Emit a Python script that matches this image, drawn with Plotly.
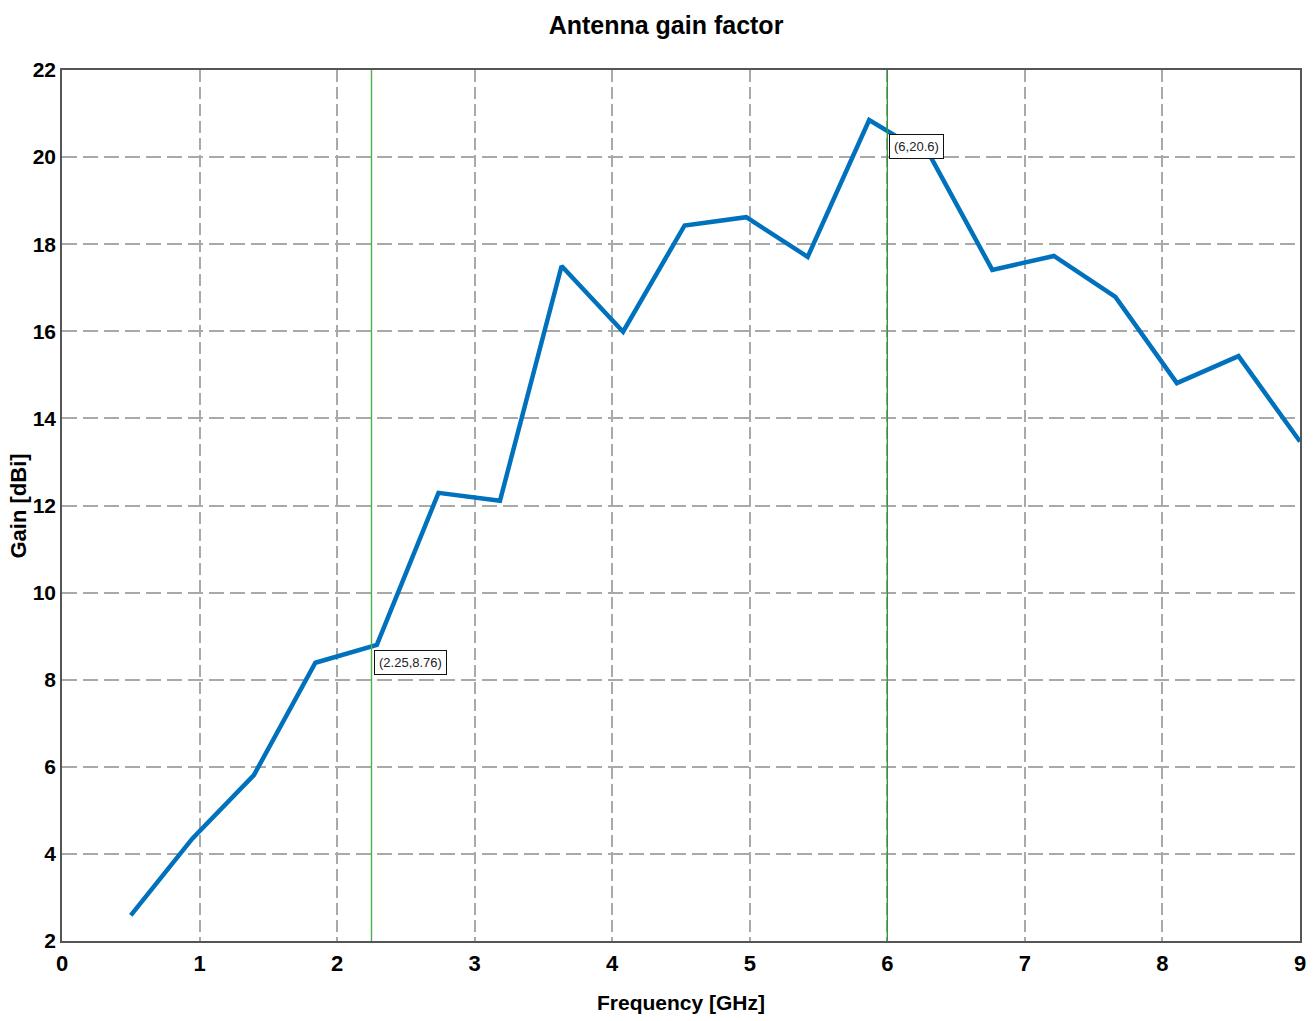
import plotly.graph_objects as go

# Data
freq_ghz = [0.5, 0.947, 1.395, 1.842, 2.289, 2.737, 3.184, 3.632, 4.079, 4.526,
            4.974, 5.421, 5.868, 6.316, 6.763, 7.211, 7.658, 8.105, 8.553, 9.0]
gain_dbi = [2.59, 4.35, 5.81, 8.39, 8.80, 12.29, 12.11, 17.50, 15.99, 18.43,
            18.62, 17.71, 20.85, 20.00, 17.41, 17.73, 16.79, 14.81, 15.43, 13.47]

cursor_x = [2.25, 6]
cursor_y = [8.76, 20.6]
cursor_labels = ["(2.25,8.76)", "(6,20.6)"]

x_ticks = [0, 1, 2, 3, 4, 5, 6, 7, 8, 9]
y_ticks = [2, 4, 6, 8, 10, 12, 14, 16, 18, 20, 22]

FONT = "Liberation Sans, Arial, sans-serif"

fig = go.Figure()

fig.add_trace(go.Scatter(
    x=freq_ghz, y=gain_dbi, mode="lines",
    line=dict(color="#0072BD", width=4.5),
    showlegend=False, cliponaxis=True,
))

cursor_colors = ["#4cb04c", "#35953a"]
for cx, cc in zip(cursor_x, cursor_colors):
    fig.add_shape(type="line", x0=cx, x1=cx, y0=0, y1=1, xref="x", yref="paper",
                  line=dict(color=cc, width=1.4), layer="above")

for cx, cy, lab in zip(cursor_x, cursor_y, cursor_labels):
    fig.add_annotation(x=cx, y=cy, xref="x", yref="y", text=lab, showarrow=False,
                       xanchor="left", yanchor="top", xshift=2, yshift=-3,
                       font=dict(family=FONT, size=13, color="#222222"),
                       bgcolor="white", bordercolor="#111111", borderwidth=1, borderpad=4)

# y-axis title placed as a rotated annotation left of the tick labels
fig.add_annotation(text="<b>Gain [dBi]</b>", xref="paper", yref="paper",
                   x=(18 - 62) / 1238, y=0.5, xanchor="center", yanchor="middle",
                   textangle=-90, showarrow=False,
                   font=dict(family=FONT, size=22, color="black"))

fig.update_layout(
    width=1316, height=1021,
    margin=dict(l=62, r=16, t=70, b=80),
    paper_bgcolor="white", plot_bgcolor="white",
    title=dict(text="<b>Antenna gain factor</b>", x=666 / 1316, xanchor="center",
               y=1 - 25 / 1021, yanchor="middle",
               font=dict(family=FONT, size=25, color="black")),
    xaxis=dict(
        range=[0, 9], tickmode="array", tickvals=x_ticks,
        ticktext=[f"<b>{t}</b>" for t in x_ticks],
        tickfont=dict(family=FONT, size=22, color="black"),
        showline=True, mirror=True, linecolor="#555555", linewidth=1.5,
        showgrid=True, gridcolor="#a9a9a9", gridwidth=1.5, griddash="12px,5px",
        zeroline=False, ticks="", ticklabelstandoff=2, automargin=False,
        title=dict(text="<b>Frequency [GHz]</b>", standoff=20,
                   font=dict(family=FONT, size=21, color="black")),
    ),
    yaxis=dict(
        range=[2, 22], tickmode="array", tickvals=y_ticks,
        ticktext=[f"<b>{t}</b>" for t in y_ticks],
        tickfont=dict(family=FONT, size=21, color="black"),
        showline=True, mirror=True, linecolor="#555555", linewidth=1.5,
        showgrid=True, gridcolor="#a9a9a9", gridwidth=2, griddash="15px,6px",
        zeroline=False, ticks="", ticklabelstandoff=0, automargin=False,
    ),
)

fig.write_html("out.html")
